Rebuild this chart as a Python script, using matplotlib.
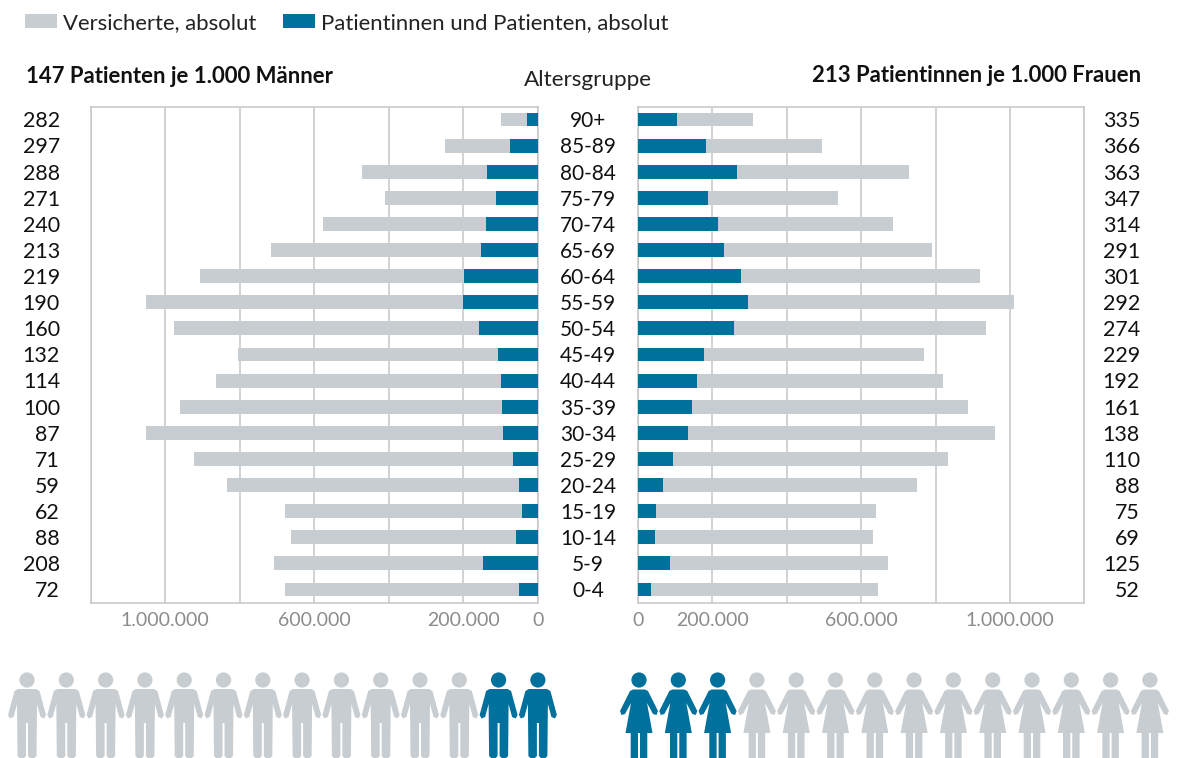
import matplotlib
matplotlib.use('Agg')
import matplotlib.pyplot as plt
from matplotlib.patches import Circle, Polygon
from matplotlib.transforms import blended_transform_factory

GREY = '#C8CDD1'
BLUE = '#00709C'
LINE = '#C6C6C6'
TICK = '#8C8C8C'
W, H = 1177, 758

plt.rcParams['font.family'] = ['Lato', 'DejaVu Sans']

age_groups = ['90+', '85-89', '80-84', '75-79', '70-74', '65-69', '60-64', '55-59', '50-54', '45-49',
              '40-44', '35-39', '30-34', '25-29', '20-24', '15-19', '10-14', '5-9', '0-4']
men_insured = [99, 250, 472, 411, 577, 715, 907, 1052, 977, 805, 864, 961, 1052, 923, 835, 679, 663, 707, 679]
men_patients = [30, 74, 136, 111, 138, 153, 199, 200, 157, 106, 98, 96, 92, 66, 49, 42, 58, 147, 49]
men_rate = [282, 297, 288, 271, 240, 213, 219, 190, 160, 132, 114, 100, 87, 71, 59, 62, 88, 208, 72]
women_insured = [309, 495, 728, 538, 685, 790, 919, 1011, 935, 769, 820, 887, 960, 833, 750, 640, 632, 672, 645]
women_patients = [105, 183, 266, 189, 215, 231, 277, 295, 258, 177, 158, 145, 134, 94, 67, 48, 45, 85, 35]
women_rate = [335, 366, 363, 347, 314, 291, 301, 292, 274, 229, 192, 161, 138, 110, 88, 75, 69, 125, 52]

tick_values = [0, 200, 400, 600, 800, 1000, 1200]
tick_labels = ['0', '200.000', '', '600.000', '', '1.000.000', '']
men_icons = 14
men_blue = 2
women_icons = 14
women_blue = 3


def px_axes(fig, x0, y0, x1, y1):
    return fig.add_axes([x0 / W, 1 - y1 / H, (x1 - x0) / W, (y1 - y0) / H])


def draw_pyramid_side(ax, insured, patients):
    y = range(len(age_groups))
    grey_bars = ax.barh(y, insured, height=0.53, color=GREY, label='Versicherte, absolut', zorder=2)
    blue_bars = ax.barh(y, patients, height=0.53, color=BLUE, label='Patientinnen und Patienten, absolut', zorder=3)
    ax.set_ylim(len(age_groups) - 0.5, -0.5)
    ax.set_yticks([])
    ax.set_xticks(tick_values)
    ax.set_xticklabels(tick_labels, fontsize=14, color=TICK)
    ax.tick_params(axis='x', length=0, pad=7)
    ax.grid(axis='x', color=LINE, linewidth=1.1, zorder=0)
    for s in ax.spines.values():
        s.set_color(LINE)
        s.set_linewidth(1.1)
    return grey_bars, blue_bars


def draw_man(ax, cx, color):
    ax.add_patch(Circle((cx, 680), 7.6, color=color, lw=0))
    body = [(cx - 9, 689), (cx + 9, 689), (cx + 12.5, 691), (cx + 19, 715), (cx + 17, 718.5), (cx + 13.5, 717),
            (cx + 10, 704), (cx + 9.5, 756), (cx + 7.5, 758), (cx + 3, 758), (cx + 1, 756), (cx + 1, 723),
            (cx - 1, 723), (cx - 1, 756), (cx - 3, 758), (cx - 7.5, 758), (cx - 9.5, 756), (cx - 10, 704),
            (cx - 13.5, 717), (cx - 17, 718.5), (cx - 19, 715), (cx - 12.5, 691)]
    ax.add_patch(Polygon(body, closed=True, color=color, lw=0))


def draw_woman(ax, cx, color):
    ax.add_patch(Circle((cx, 680), 7.6, color=color, lw=0))
    body = [(cx - 6, 689.5), (cx + 6, 689.5), (cx + 9, 691), (cx + 19, 711), (cx + 17.5, 715), (cx + 14, 714),
            (cx + 8, 703), (cx + 13.5, 733), (cx + 8.3, 733), (cx + 8.3, 758), (cx + 1, 758), (cx + 1, 733),
            (cx - 1, 733), (cx - 1, 758), (cx - 8.3, 758), (cx - 8.3, 733), (cx - 13.5, 733), (cx - 8, 703),
            (cx - 14, 714), (cx - 17.5, 715), (cx - 19, 711), (cx - 9, 691)]
    ax.add_patch(Polygon(body, closed=True, color=color, lw=0))


fig = plt.figure(figsize=(W / 100, H / 100), dpi=100)

overlay = fig.add_axes([0, 0, 1, 1])
overlay.set_xlim(0, W)
overlay.set_ylim(H, 0)
overlay.axis('off')

ax_m = px_axes(fig, 90.5, 106.5, 537.7, 602.5)
ax_w = px_axes(fig, 638, 106.5, 1084.4, 602.5)
handles = draw_pyramid_side(ax_m, men_insured, men_patients)
draw_pyramid_side(ax_w, women_insured, women_patients)
ax_m.set_xlim(1200, 0)
ax_w.set_xlim(0, 1200)

trans_m = blended_transform_factory(fig.transFigure, ax_m.transData)
for i, group in enumerate(age_groups):
    label_y = i + 0.07
    fig.text(588 / W, label_y, group, transform=trans_m, ha='center', va='center', fontsize=15, color='#111111')
    fig.text(60 / W, label_y, str(men_rate[i]), transform=trans_m, ha='right', va='center', fontsize=15.4, color='#111111')
    fig.text(1140 / W, label_y, str(women_rate[i]), transform=trans_m, ha='right', va='center', fontsize=15.4, color='#111111')

fig.text(26 / W, 1 - 76.5 / H, '147 Patienten je 1.000 Männer', ha='left', va='center',
         fontsize=15.9, fontweight='bold', color='#111111')
fig.text(1141 / W, 1 - 75.5 / H, '213 Patientinnen je 1.000 Frauen', ha='right', va='center',
         fontsize=15.9, fontweight='bold', color='#111111')
fig.text(588 / W, 1 - 79.5 / H, 'Altersgruppe', ha='center', va='center', fontsize=16.2, color='#222222')

fig.legend(handles=handles, loc='upper left', bbox_to_anchor=(24.5 / W, 1 - 13 / H), bbox_transform=fig.transFigure,
           ncol=2, frameon=False, fontsize=15.9, borderpad=0, borderaxespad=0, handlelength=1.49, handleheight=0.59,
           handletextpad=0.27, columnspacing=1.17, labelcolor='#222222')

for i in range(men_icons):
    draw_man(overlay, 27 + i * 39.3, BLUE if i >= men_icons - men_blue else GREY)
for i in range(women_icons):
    draw_woman(overlay, 639 + i * 39.3, BLUE if i < women_blue else GREY)

fig.savefig('out.png', dpi=100)
